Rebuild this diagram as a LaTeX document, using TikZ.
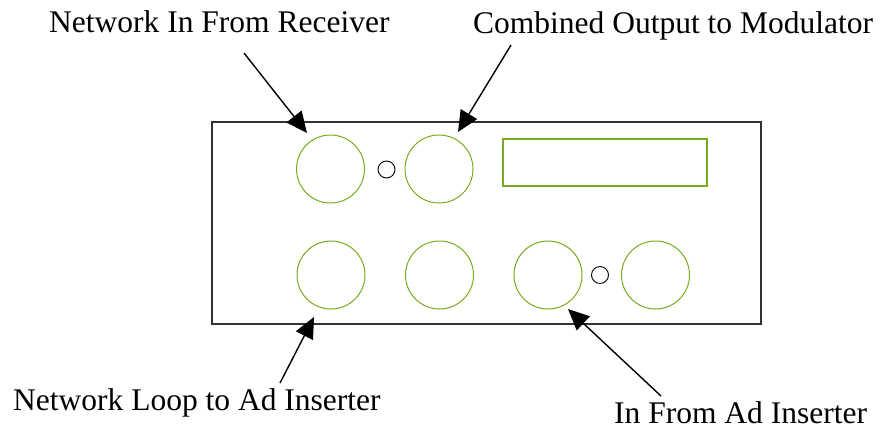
\documentclass[tikz,border=0pt]{standalone}
\usepackage{fontspec}
\setmainfont{Liberation Serif}
\usetikzlibrary{arrows.meta}
\definecolor{jackgreen}{RGB}{122, 170, 30}
\definecolor{panelgray}{RGB}{50, 50, 50}

\tikzset{
    jack/.style={circle, draw=jackgreen, line width=1pt, minimum size=68pt, inner sep=0pt},
    led/.style={circle, draw=black, line width=0.9pt, minimum size=17pt, inner sep=0pt},
    callout/.style={font=\fontsize{31.5}{36}\selectfont, anchor=base west, inner sep=0pt},
    pointer/.style={-{Triangle[length=21pt, width=19pt]}, line width=1.4pt}
}

\begin{document}
\begin{tikzpicture}[x=1pt, y=-1pt]
    \useasboundingbox (0, 0) rectangle (884, 432);

    % Panel
    \draw[panelgray, line width=1.1pt] (212, 122) rectangle (761, 324);
    \draw[jackgreen, line width=1.1pt] (503, 139) rectangle (707, 186);

    % Jacks
    \node[jack] (netIn) at (330.5, 169) {};
    \node[led] (ledTop) at (386.5, 169.5) {};
    \node[jack] (combOut) at (439, 169) {};
    \node[jack] (netLoop) at (331, 275) {};
    \node[jack] (spare) at (439.5, 275) {};
    \node[jack] (adIn) at (548, 275) {};
    \node[led] (ledBot) at (600, 275) {};
    \node[jack] (adOut) at (655.5, 275) {};

    % Labels
    \node[callout] (lblNetIn) at (49, 32) {Network In From Receiver};
    \node[callout] (lblComb) at (473, 33) {Combined Output to Modulator};
    \node[callout] (lblLoop) at (13, 410) {Network Loop to Ad Inserter};
    \node[callout] (lblAdIn) at (614, 423) {In From Ad Inserter};

    % Arrow ends
    \coordinate (netInTail) at (244, 53);
    \coordinate (netInTip) at (307, 133);
    \coordinate (combTail) at (511, 45);
    \coordinate (combTip) at (458, 132);
    \coordinate (loopTail) at (280, 383);
    \coordinate (loopTip) at (314, 317);
    \coordinate (adInTail) at (661, 396);
    \coordinate (adInTip) at (568, 309);

    % Arrows
    \draw[pointer] (netInTail) -- (netInTip);
    \draw[pointer] (combTail) -- (combTip);
    \draw[pointer] (loopTail) -- (loopTip);
    \draw[pointer] (adInTail) -- (adInTip);
\end{tikzpicture}
\end{document}
